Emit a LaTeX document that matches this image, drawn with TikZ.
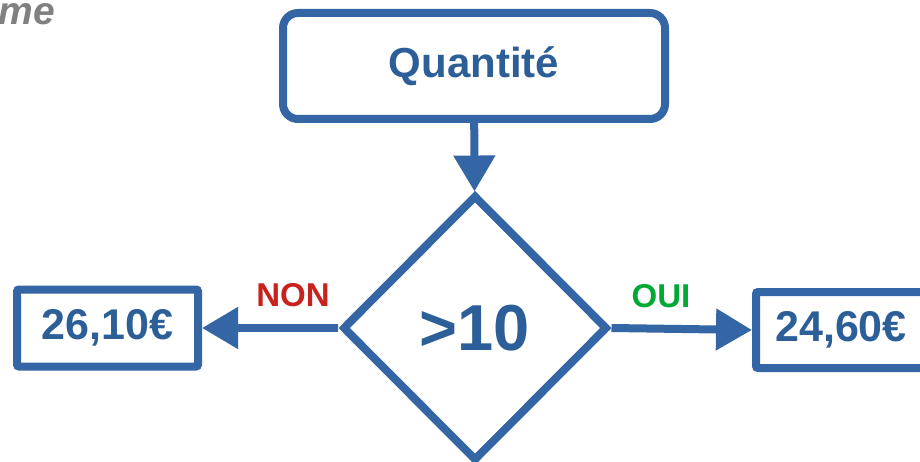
\documentclass[tikz,border=0pt]{standalone}
\usepackage{fontspec}
\setmainfont{Liberation Sans}
\usetikzlibrary{arrows.meta,shapes.geometric}
\definecolor{fblue}{RGB}{52,101,164}
\definecolor{tblue}{RGB}{44,94,152}
\definecolor{fred}{RGB}{201,33,30}
\definecolor{fgreen}{RGB}{0,169,51}
\definecolor{fgray}{RGB}{128,128,128}
\tikzset{
  boite/.style={draw=fblue,line width=8pt,text=tblue,inner sep=0pt,
    font=\bfseries\fontsize{43}{50}\selectfont},
  fleche/.style={draw=fblue,line width=8pt,-{Triangle[length=36pt,width=40pt]}},
  choix/.style={inner sep=0pt,font=\bfseries\fontsize{33}{40}\selectfont}
}
\begin{document}
\begin{tikzpicture}[x=1pt,y=-1pt]%
        \useasboundingbox (0,0) rectangle (920,462);
        \node[anchor=base east,inner sep=0pt,text=fgray,font=\bfseries\itshape\fontsize{39}{44}\selectfont] (titre) at (55,25) {me};
        \node[boite,rounded corners=15pt,minimum width=382pt,minimum height=106pt,font=\bfseries\fontsize{42}{50}\selectfont] (quant) at (474,66) {Quantité};
        \node[boite,diamond,minimum width=265pt,minimum height=266pt,font=\bfseries\fontsize{65}{70}\selectfont] (test) at (475,328) {>10};
        \node[boite,rounded corners=2pt,minimum width=181pt,minimum height=77pt] (non) at (107.5,328) {26,10€};
        \node[boite,rounded corners=2pt,minimum width=170pt,minimum height=76pt] (oui) at (841,330) {24,60€};
        \draw[fleche] (quant) -- (test);
        \draw[fleche] (test) -- (non);
        \draw[fleche] (test.east) -- (oui.west);
        \node[choix,text=fred] (lnon) at (293,295) {NON};
        \node[choix,text=fgreen] (loui) at (661,296) {OUI};
    \end{tikzpicture}
\end{document}
